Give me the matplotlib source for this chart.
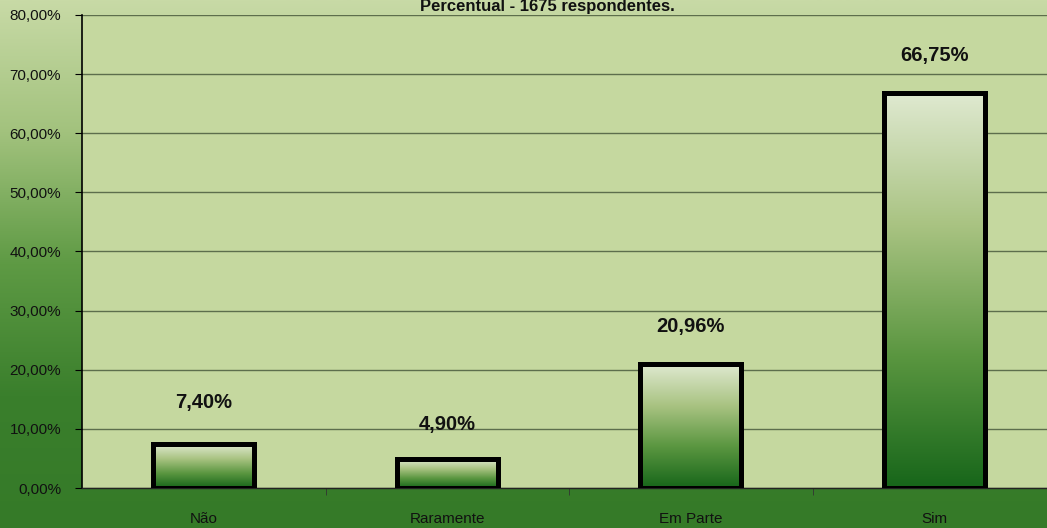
import numpy as np
import matplotlib.pyplot as plt
from matplotlib.colors import LinearSegmentedColormap
from matplotlib.ticker import FuncFormatter

plt.rcParams['font.family'] = ['Liberation Sans', 'DejaVu Sans']

categories = ['Não', 'Raramente', 'Em Parte', 'Sim']
values = [7.40, 4.90, 20.96, 66.75]
labels = ['7,40%', '4,90%', '20,96%', '66,75%']
label_offsets = [30, 25, 27, 27]

fig = plt.figure(figsize=(10.47, 5.28), dpi=100)

# figure background gradient (light at top, dark green at bottom)
bg_cmap = LinearSegmentedColormap.from_list('bg', ['#c8daa6', '#a2c27d', '#5e9a44', '#3a7f2c', '#357a28'])
bg_ax = fig.add_axes([0, 0, 1, 1], zorder=-10)
bg_ax.imshow(np.linspace(0, 1, 256).reshape(-1, 1), aspect='auto', cmap=bg_cmap,
             extent=[0, 1, 0, 1], origin='upper')
bg_ax.axis('off')

# axes: x from 82px, right edge beyond the figure; y from 15px (80%) to 488px (0%)
W, H = 1047, 528
left, right = 82 / W, 1056 / W
bottom, top = (H - 488) / H, (H - 15) / H
ax = fig.add_axes([left, bottom, right - left, top - bottom])
ax.set_facecolor('#c5d89f')

x = np.arange(len(categories))
bars = ax.bar(x, values, width=0.415, color='none', edgecolor='black',
              linewidth=3.6, zorder=3)

bar_cmap = LinearSegmentedColormap.from_list('bar', ['#dfe9d0', '#a9c382', '#5a9640', '#17661a'])
grad = np.linspace(0, 1, 256).reshape(-1, 1)
for b in bars:
    bx, by = b.get_x(), b.get_y()
    bw, bh = b.get_width(), b.get_height()
    im = ax.imshow(grad, aspect='auto', cmap=bar_cmap, origin='upper',
                   extent=[bx, bx + bw, by, by + bh], zorder=2)
    im.set_clip_path(b)

for xi, v, lab, off in zip(x, values, labels, label_offsets):
    ax.annotate(lab, (xi, v), xytext=(0, off), textcoords='offset points',
                ha='center', va='center', fontsize=14.5, fontweight='bold', color='#111111')

ax.set_xlim(-0.5, 3.5)
ax.set_ylim(0, 80)
ax.set_yticks(np.arange(0, 81, 10))
ax.yaxis.set_major_formatter(FuncFormatter(lambda v, p: f'{v:.2f}%'.replace('.', ',')))
ax.yaxis.grid(True, color='#5d6e4c', linewidth=1.0, zorder=0)
ax.set_axisbelow(True)

ax.set_xticks(x)
ax.set_xticklabels(categories)
ax.set_xticks(np.arange(0.5, 3.5, 1), minor=True)
ax.tick_params(axis='x', which='major', length=0, pad=17, labelsize=11, labelcolor='#111111')
ax.tick_params(axis='x', which='minor', length=5, color='#333333', direction='out')
ax.tick_params(axis='y', length=5, labelsize=11, labelcolor='#111111', pad=10)

for s in ['top', 'right']:
    ax.spines[s].set_visible(False)
ax.spines['left'].set_color('black')
ax.spines['left'].set_linewidth(1.2)
ax.spines['bottom'].set_color('#222222')
ax.spines['bottom'].set_linewidth(1.0)

fig.text(547 / W, 1 - 14 / H, 'Percentual - 1675 respondentes.', ha='center', va='bottom',
         fontsize=12, fontweight='bold', color='#111111')

fig.savefig('out.png', dpi=100)
